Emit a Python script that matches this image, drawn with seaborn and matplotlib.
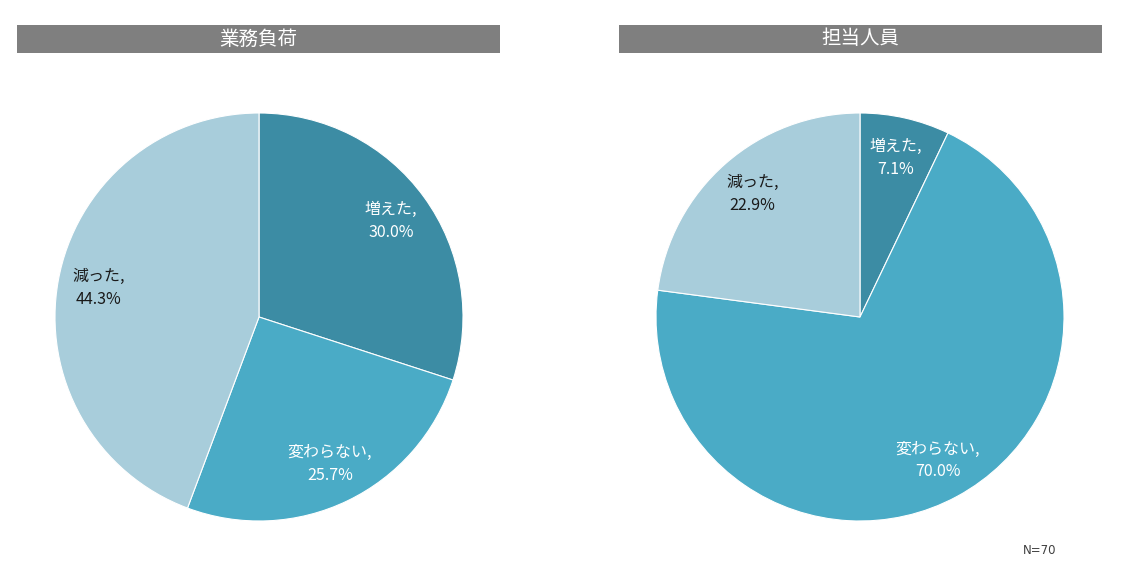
import matplotlib
matplotlib.use("Agg")
import matplotlib.pyplot as plt
import seaborn as sns
from matplotlib.patches import Rectangle

sns.set_theme(style="white")
plt.rcParams['font.family'] = ['Noto Sans CJK JP', 'DejaVu Sans']

categories = ["増えた", "変わらない", "減った"]
titles = ["業務負荷", "担当人員"]
workload = [30.0, 25.7, 44.3]
staff = [7.1, 70.0, 22.9]
series = [workload, staff]
colors = ["#3C8CA4", "#4AABC6", "#A8CDDB"]
text_colors = ["white", "white", "#1a1a1a"]
note = "N=70"

W, H = 1124, 573
fig = plt.figure(figsize=(W / 100, H / 100), dpi=100)
fig.patch.set_facecolor("white")

centers = [259, 860]
cy = 317
r = 204
boxes = [(17, 500), (619, 1102)]

for i, (vals, title) in enumerate(zip(series, titles)):
    cx = centers[i]
    ax = fig.add_axes([(cx - r) / W, (H - cy - r) / H, 2 * r / W, 2 * r / H])
    labels_iter = iter(categories)

    def fmt(p, _it=labels_iter):
        name = next(_it)
        return f"{name},\n{p:.1f}%"

    wedges, texts, autotexts = ax.pie(
        vals, colors=colors, startangle=90, counterclock=False,
        autopct=fmt, pctdistance=0.8, radius=1.0,
        wedgeprops=dict(linewidth=0.8, edgecolor="white"),
        textprops=dict(fontsize=11.5),
    )
    for t, c in zip(autotexts, text_colors):
        t.set_color(c)
        t.set_linespacing(1.45)
    ax.set_xlim(-1, 1)
    ax.set_ylim(-1, 1)
    ax.set_aspect("equal")
    ax.axis("off")

    x0, x1 = boxes[i]
    fig.patches.append(Rectangle((x0 / W, (H - 53) / H), (x1 - x0) / W, 28 / H,
                                 transform=fig.transFigure, facecolor="#7F7F7F",
                                 edgecolor="none", zorder=0))
    fig.text((x0 + x1) / 2 / W, (H - 39) / H, title, color="white",
             fontsize=14, ha="center", va="center")

fig.text(1040 / W, (H - 550) / H, note, fontsize=8.5, color="#404040",
         ha="center", va="center", family=['DejaVu Sans'])

fig.savefig("out.png", dpi=100, facecolor="white")
